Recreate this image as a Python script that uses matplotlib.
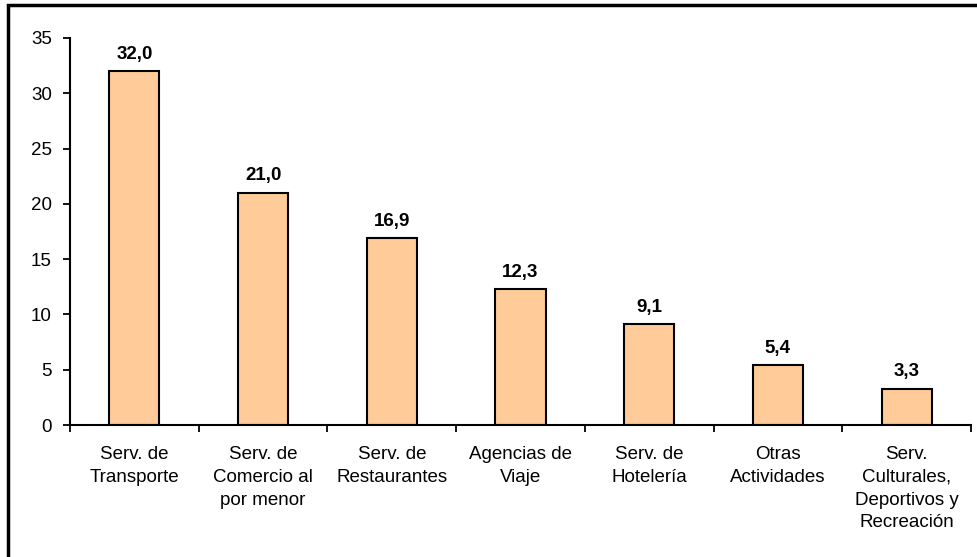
import matplotlib.pyplot as plt
import numpy as np
from matplotlib.patches import Rectangle

plt.rcParams['font.family'] = ['Liberation Sans', 'DejaVu Sans']

# data
categories = [
    "Serv. de\nTransporte",
    "Serv. de\nComercio al\npor menor",
    "Serv. de\nRestaurantes",
    "Agencias de\nViaje",
    "Serv. de\nHotelería",
    "Otras\nActividades",
    "Serv.\nCulturales,\nDeportivos y\nRecreación",
]
values = [32.0, 21.0, 16.9, 12.3, 9.1, 5.4, 3.3]
value_labels = ["32,0", "21,0", "16,9", "12,3", "9,1", "5,4", "3,3"]

fig = plt.figure(figsize=(9.78, 5.57), dpi=100)
ax = fig.add_axes([70 / 978, 1 - 425 / 557, 901 / 978, 387 / 557])

x = np.arange(len(values))
ax.bar(x, values, width=0.39, color="#FFCC99", edgecolor="black", linewidth=1.5)

for xi, v, lab in zip(x, values, value_labels):
    ax.annotate(lab, (xi, v), xytext=(0, 6), textcoords="offset points",
                ha="center", va="bottom", fontsize=13.5, fontweight="bold")

ax.set_xlim(-0.5, len(values) - 0.5)
ax.set_ylim(0, 35)
ax.set_yticks(range(0, 36, 5))
ax.tick_params(axis="y", labelsize=13.5, length=5, width=1.3, direction="out", pad=8)

# category boundaries as major ticks, labels on minor ticks at the centres
ax.set_xticks(np.arange(-0.5, len(values), 1))
ax.set_xticklabels([])
ax.set_xticks(x, minor=True)
ax.set_xticklabels(categories, minor=True, fontsize=13.5, linespacing=1.45)
ax.tick_params(axis="x", which="major", length=5, width=1.3, direction="out")
ax.tick_params(axis="x", which="minor", length=0, pad=15)

for s in ["top", "right"]:
    ax.spines[s].set_visible(False)
for s in ["left", "bottom"]:
    ax.spines[s].set_linewidth(1.5)

# outer frame, only its left and top edges fall inside the picture
fig.patches.append(Rectangle((8 / 978, -0.5), 2, 0.5 + (557 - 5) / 557,
                             transform=fig.transFigure, fill=False,
                             edgecolor="black", linewidth=2.5))

fig.savefig("out.png", dpi=100)
